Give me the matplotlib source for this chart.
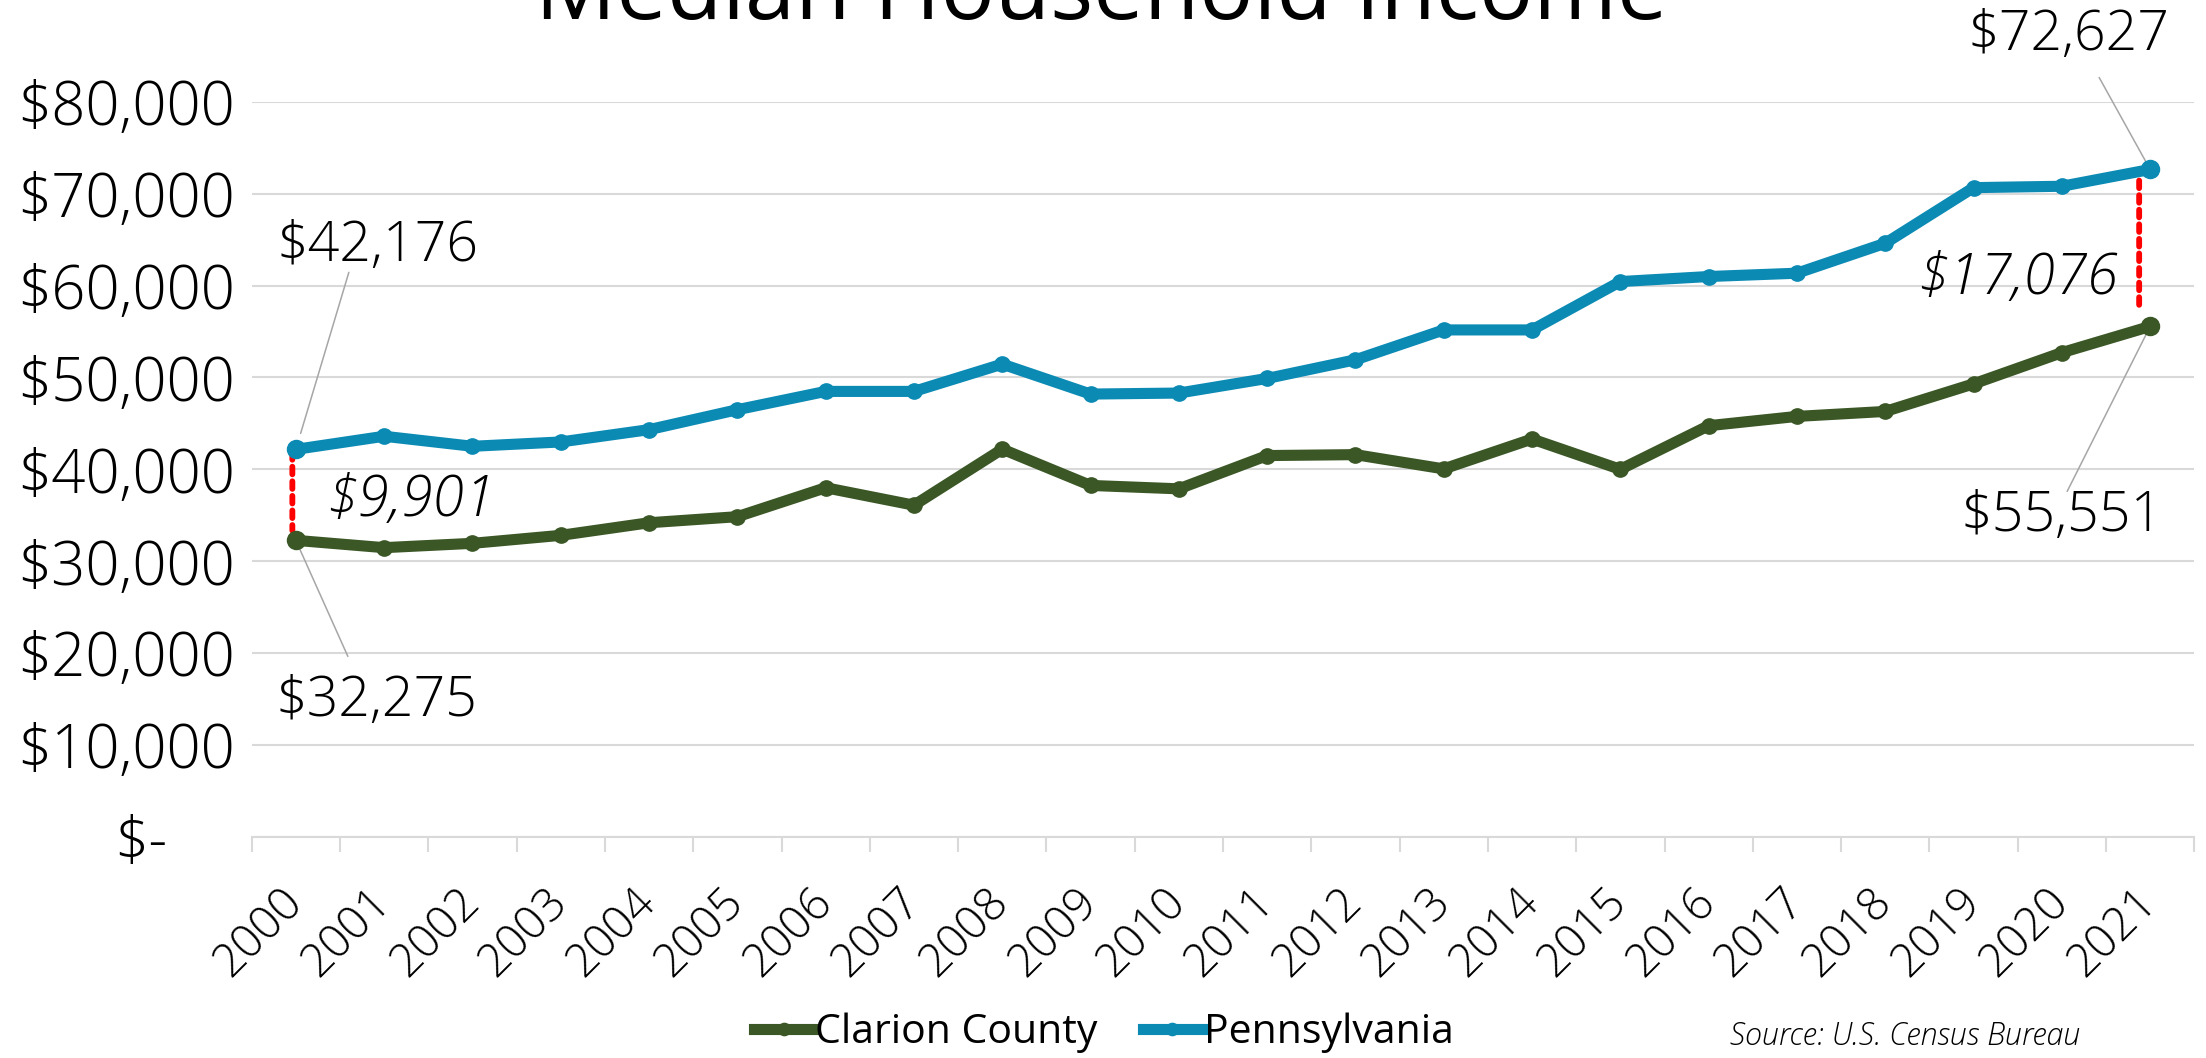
import matplotlib
matplotlib.use("Agg")
import matplotlib.pyplot as plt
from matplotlib import font_manager as fm
from matplotlib.lines import Line2D
from matplotlib.transforms import ScaledTranslation

# ---------------- data ----------------
years = [str(y) for y in range(2000, 2022)]
clarion = [32275, 31480, 31950, 32820, 34190, 34850, 38000, 36100, 42200, 38250, 37880,
           41500, 41600, 40050, 43300, 40000, 44750, 45760, 46300, 49300, 52700, 55551]
penn = [42176, 43600, 42510, 42980, 44320, 46490, 48480, 48480, 51450, 48190, 48300,
        49890, 51920, 55170, 55170, 60430, 60980, 61340, 64600, 70650, 70800, 72627]
series_names = ["Clarion County", "Pennsylvania"]
ytick_values = [0, 10000, 20000, 30000, 40000, 50000, 60000, 70000, 80000]
ytick_labels = ["$-", "$10,000", "$20,000", "$30,000", "$40,000", "$50,000",
                "$60,000", "$70,000", "$80,000"]
title = "Median Household Income"
source = "Source: U.S. Census Bureau"

# ---------------- style ----------------
GREEN = "#3B5726"
BLUE = "#0B8AB4"
GRID = "#D9D9D9"
LEADER = "#A6A6A6"

plt.rcParams["text.parse_math"] = False
avail = {f.name for f in fm.fontManager.ttflist}
FONT = next(f for f in ["Open Sans", "Lato", "Noto Sans", "DejaVu Sans"] if f in avail)


def _w(f):
    w = f.weight
    if isinstance(w, str):
        w = fm.weight_dict.get(w, 400)
    return w


LIGHT = "light" if any(f.name == FONT and _w(f) <= 300 for f in fm.fontManager.ttflist) else "normal"
plt.rcParams["font.family"] = [FONT, "DejaVu Sans"]

W, H, DPI = 2206, 1058, 100
fig = plt.figure(figsize=(W / DPI, H / DPI), dpi=DPI)
ax = fig.add_axes([251.7 / W, 1 - 837 / H, (2194.3 - 251.7) / W, (837 - 101.7) / H])

x = list(range(len(years)))
ax.set_xlim(-0.5, len(years) - 0.5)
ax.set_ylim(ytick_values[0], ytick_values[-1])

# grid
ax.set_yticks(ytick_values)
ax.yaxis.grid(True, color=GRID, lw=1.5, zorder=0)
ax.set_axisbelow(True)
for s in ["left", "right", "top"]:
    ax.spines[s].set_visible(False)
ax.spines["bottom"].set_color(GRID)
ax.spines["bottom"].set_linewidth(1.5)

# series
LW, MS = 8, 11
ax.plot(x, clarion, color=GREEN, lw=LW, marker="o", ms=MS, zorder=4, solid_capstyle="round")
ax.plot(x, penn, color=BLUE, lw=LW, marker="o", ms=MS, zorder=4, solid_capstyle="round")
ends = [0, len(years) - 1]
ax.plot(ends, [clarion[i] for i in ends], "o", color=GREEN, ms=13, zorder=5)
ax.plot(ends, [penn[i] for i in ends], "o", color=BLUE, ms=13, zorder=5)

# ticks
ax.set_yticklabels(ytick_labels)
ax.tick_params(axis="y", length=0, pad=12, labelsize=43)
for t in ax.yaxis.get_ticklabels():
    t.set_fontweight(LIGHT)
    if t.get_text() == "$-":
        t.set_transform(t.get_transform() + ScaledTranslation(-67 / DPI, 0, fig.dpi_scale_trans))
ax.set_xticks(x)
ax.set_xticklabels(years, rotation=45, ha="right", va="center", rotation_mode="anchor",
                   fontweight=LIGHT)
ax.set_xticks([i - 0.5 for i in range(len(years) + 1)], minor=True)
ax.tick_params(axis="x", which="major", length=0, pad=42, labelsize=33)
ax.tick_params(axis="x", which="minor", length=11, width=1.5, color=GRID)

# red dotted gap lines
for i, dx, sa, sb in [(0, -3.5, 2, 7), (len(years) - 1, -11, 8, 14)]:
    tr = ax.transData + ScaledTranslation(dx / DPI, 0, fig.dpi_scale_trans)
    ax.annotate("", xy=(i, clarion[i]), xytext=(i, penn[i]), xycoords=tr, textcoords=tr,
                arrowprops=dict(arrowstyle="-", color="red", lw=4.2, linestyle=(0, (1.3, 1.2)),
                                shrinkA=sa, shrinkB=sb), zorder=3)


def value_label(i, arr, dx, dy, ldx, ldy, shrink):
    ax.annotate(f"${arr[i]:,}", xy=(i, arr[i]), xytext=(dx, dy), textcoords="offset pixels",
                ha="center", va="baseline", fontsize=40, fontweight=LIGHT, zorder=6)
    ax.annotate("", xy=(i, arr[i]), xytext=(ldx, ldy), textcoords="offset pixels",
                arrowprops=dict(arrowstyle="-", color=LEADER, lw=1.1, shrinkA=0, shrinkB=shrink),
                zorder=3)


last = len(years) - 1
value_label(0, penn, 82, 188, 53, 177, 12)
value_label(0, clarion, 81, -176, 52, -116, 5)
value_label(last, penn, -82, 119, -51, 92, 1)
value_label(last, clarion, -88, -205, -83, -165, 2)

for i, dx, dy in [(0, 115, -21), (last, -133, -46)]:
    gap = penn[i] - clarion[i]
    ax.annotate(f"${gap:,}", xy=(i, (penn[i] + clarion[i]) / 2), xytext=(dx, dy),
                textcoords="offset pixels", ha="center", va="baseline", fontsize=41,
                fontstyle="italic", fontweight=LIGHT, zorder=6)

# title (cut off at the top edge, as in the original)
fig.text(1101 / W, 1 - 19 / H, title, ha="center", va="baseline", fontsize=65)

# legend
handles = [Line2D([], [], color=GREEN, lw=LW, marker="o", ms=MS * 0.8),
           Line2D([], [], color=BLUE, lw=LW, marker="o", ms=MS * 0.8)]
fig.legend(handles, series_names, loc="center", bbox_to_anchor=(1104 / W, 1 - 1033 / H),
           ncol=2, frameon=False, fontsize=29.5, handlelength=1.45, handletextpad=0.05,
           columnspacing=1.1)

fig.text(2080 / W, 1 - 1045 / H, source, ha="right", va="baseline", fontsize=22,
         fontstyle="italic", fontweight=LIGHT)

fig.savefig("out.png", dpi=DPI)
